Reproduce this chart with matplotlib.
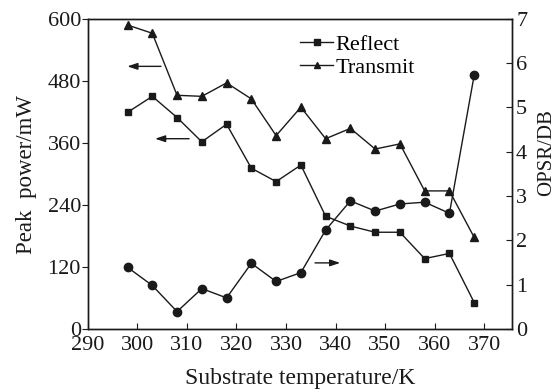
import matplotlib.pyplot as plt
from matplotlib.lines import Line2D

plt.rcParams['font.family'] = ['Liberation Serif', 'DejaVu Serif']

temps = [298, 303, 308, 313, 318, 323, 328, 333, 338, 343, 348, 353, 358, 363, 368]
transmit_power = [588, 572, 452, 450, 476, 445, 374, 429, 368, 388, 348, 358, 267, 267, 177]
reflect_power = [419, 450, 409, 362, 396, 311, 285, 317, 218, 199, 187, 187, 136, 146, 51]
opsr = [1.39, 0.98, 0.39, 0.91, 0.70, 1.48, 1.07, 1.27, 2.23, 2.89, 2.66, 2.82, 2.86, 2.61, 5.73]

left_ticks = [0, 120, 240, 360, 480, 600]
right_ticks = [0, 1, 2, 3, 4, 5, 6, 7]
x_ticks = [290, 300, 310, 320, 330, 340, 350, 360, 370]

ink = '#1a1a1a'
fs = 16

fig = plt.figure(figsize=(5.6, 3.92), dpi=100)
ax = fig.add_axes([0.157, 0.161, 0.757, 0.791])
ax.plot(temps, transmit_power, '-^', color=ink, lw=1, ms=5.5)
ax.plot(temps, reflect_power, '-s', color=ink, lw=1, ms=4.5)
ax.set_xlim(290, 375.6)
ax.set_ylim(0, 600)
ax.set_xticks(x_ticks)
ax.set_yticks(left_ticks)
ax.tick_params(axis='x', direction='in', length=4, labelsize=fs, pad=5, colors=ink)
ax.tick_params(axis='y', direction='out', length=4, labelsize=fs, pad=1, colors=ink)
ax.set_xlabel('Substrate temperature/K', fontsize=17, color=ink)
ax.xaxis.set_label_coords(0.5, -0.125)
ax.set_ylabel('Peak  power/mW', fontsize=16.5, color=ink)
ax.yaxis.set_label_coords(-0.12, 0.497)

ax2 = ax.twinx()
ax2.plot(temps, opsr, '-o', color=ink, lw=1, ms=6)
ax2.set_ylim(0, 7)
ax2.set_yticks(right_ticks)
ax2.tick_params(axis='y', direction='in', length=4, labelsize=fs, pad=3, colors=ink)
ax2.set_ylabel('OPSR/DB', fontsize=15, color=ink)
ax2.yaxis.set_label_coords(1.06, 0.57)

for a in (ax, ax2):
    for s in a.spines.values():
        s.set_color(ink)
        s.set_linewidth(1)

arrow = dict(arrowstyle='-|>,head_length=0.6,head_width=0.2', color=ink, lw=1)
ax.annotate('', xy=(297.4, 508), xytext=(305.3, 508), arrowprops=arrow)
ax.annotate('', xy=(303.0, 368), xytext=(311.0, 368), arrowprops=arrow)
ax2.annotate('', xy=(341.5, 1.49), xytext=(335.3, 1.49), arrowprops=arrow)

handles = [Line2D([], [], color=ink, lw=1, marker='s', ms=4),
           Line2D([], [], color=ink, lw=1, marker='^', ms=4.5)]
ax.legend(handles, ['Reflect', 'Transmit'], loc='upper left', bbox_to_anchor=(0.50, 0.95),
          frameon=False, fontsize=fs, handlelength=1.5, handletextpad=0.1,
          labelspacing=0.12, borderaxespad=0, borderpad=0)

fig.savefig('out.png', dpi=100)
